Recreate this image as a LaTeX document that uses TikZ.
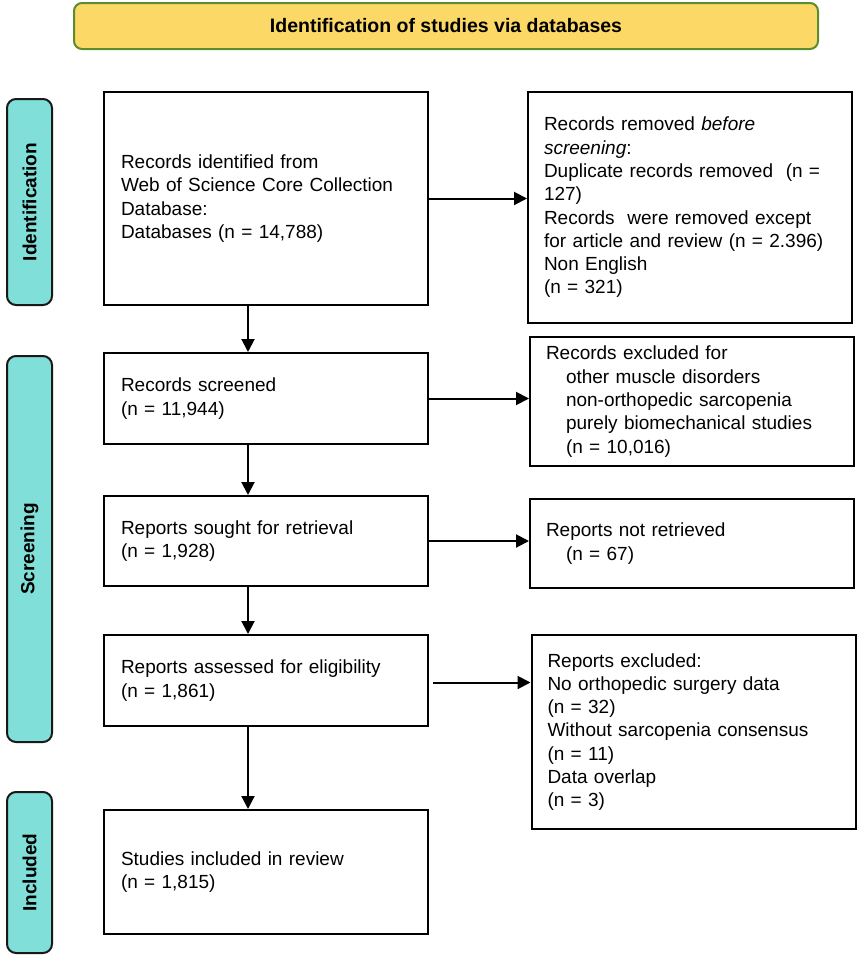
\documentclass[tikz,border=0pt]{standalone}
\usepackage{fontspec}
\setmainfont{Liberation Sans}
\usetikzlibrary{arrows.meta}
\definecolor{banfill}{HTML}{FCD966}
\definecolor{banline}{HTML}{5B8C2E}
\definecolor{barfill}{HTML}{80DFD8}
\begin{document}
\begin{tikzpicture}[x=1pt,y=1pt,
  txt/.style={font=\fontsize{19}{23.3}\selectfont},
  lbox/.style={draw=black, line width=2pt, txt, align=left, inner xsep=17pt,
    minimum width=324pt, text width=290pt, anchor=center},
  rbox/.style={draw=black, line width=2pt, txt, align=left, inner xsep=16pt,
    minimum width=324pt, text width=292pt, anchor=center},
  bar/.style={draw=black!90, fill=barfill, line width=2pt, rounded corners=9pt,
    rotate=90, minimum height=45pt, inner sep=0pt,
    font=\fontsize{19}{23}\selectfont\bfseries},
  arr/.style={line width=2pt, -{Triangle[length=13pt,width=13pt]}}
]
\useasboundingbox (0,0) rectangle (863,-961);
\fill[white] (0,0) rectangle (863,-961);

% banner
\node[draw=banline, fill=banfill, line width=2pt, rounded corners=8pt,
  minimum width=744pt, minimum height=46pt, inner sep=0pt,
  font=\fontsize{19.5}{23}\selectfont\bfseries] (ban) at (446,-26) {Identification of studies via databases};

% side bars
\node[bar, minimum width=206pt] (b1) at (29.5,-202) {Identification};
\node[bar, minimum width=386pt] (b2) at (29.5,-549) {Screening};
\node[bar, minimum width=161pt] (b3) at (29.5,-872.5) {Included};

% left boxes
\node[lbox, minimum height=213pt] (A) at (266,-198.5) {Records identified from\\Web of Science Core Collection\\Database:\\Databases (n = 14,788)};
\node[lbox, minimum height=91pt] (C) at (266,-398.5) {Records screened\\(n = 11,944)};
\node[lbox, minimum height=90pt] (E) at (266,-541) {Reports sought for retrieval\\(n = 1,928)};
\node[lbox, minimum height=91pt] (G) at (266,-680.5) {Reports assessed for eligibility\\(n = 1,861)};
\node[lbox, minimum height=124pt] (I) at (266,-872) {Studies included in review\\(n = 1,815)};

% right boxes
\node[rbox, minimum height=231pt] (B) at (690,-207.5) {Records removed \emph{before}\\\emph{screening}:\\Duplicate records removed\ \ (n =\\127)\\Records\ \ were removed except\\for article and review (n = 2.396)\\Non English\\(n = 321)};
\node[rbox, minimum height=129pt] (D) at (692,-401.5) {Records excluded for\\\hspace*{20pt}other muscle disorders\\\hspace*{20pt}non-orthopedic sarcopenia\\\hspace*{20pt}purely biomechanical studies\\\hspace*{20pt}(n = 10,016)};
\node[rbox, minimum height=89pt] (F) at (692,-543.5) {Reports not retrieved\\\hspace*{20pt}(n = 67)};
\node[rbox, minimum height=194pt] (H) at (693.5,-732) {Reports excluded:\\No orthopedic surgery data\\(n = 32)\\Without sarcopenia consensus\\(n = 11)\\Data overlap\\(n = 3)};

% arrows
\coordinate (ax) at (248,0);
\draw[arr] (A.south -| ax) -- (C.north -| ax);
\draw[arr] (C.south -| ax) -- (E.north -| ax);
\draw[arr] (E.south -| ax) -- (G.north -| ax);
\draw[arr] (G.south -| ax) -- (I.north -| ax);

\draw[arr] (A.east) -- (A.east -| B.west);
\draw[arr] (C.east) -- (C.east -| D.west);
\draw[arr] (E.east) -- (E.east -| F.west);
\draw[arr, shorten <=4pt] ([yshift=-2pt]G.east) -- ([yshift=-2pt]G.east -| H.west);
\end{tikzpicture}
\end{document}
